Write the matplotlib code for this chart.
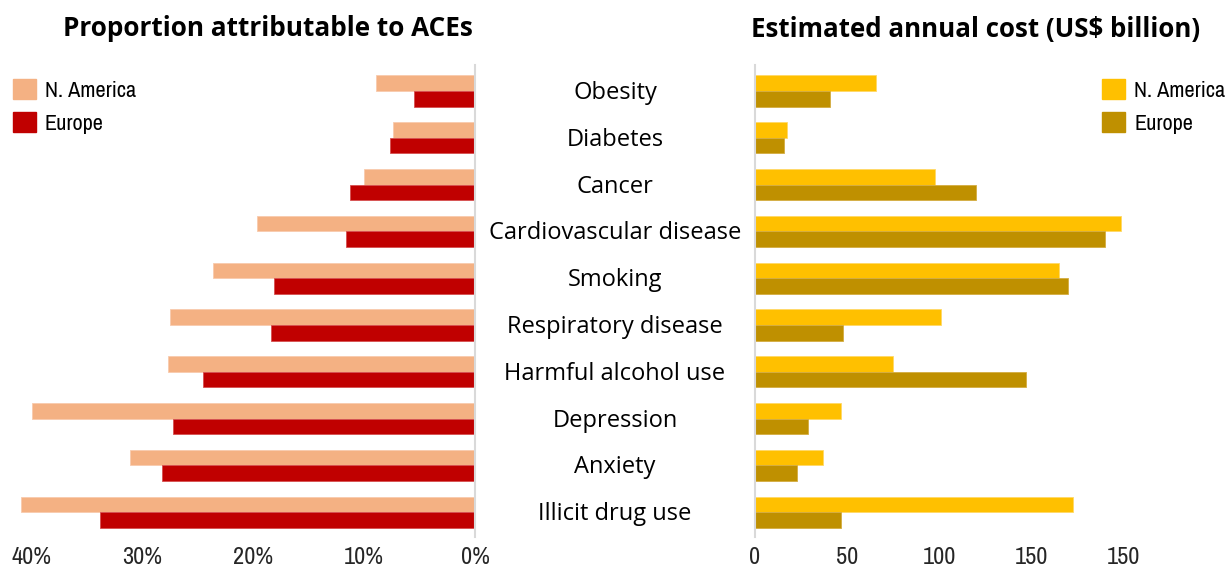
import matplotlib
matplotlib.use('Agg')
import matplotlib.pyplot as plt
import matplotlib.font_manager as fm
import numpy as np
from matplotlib.patches import Patch

# Data
categories = ['Obesity', 'Diabetes', 'Cancer', 'Cardiovascular disease', 'Smoking',
              'Respiratory disease', 'Harmful alcohol use', 'Depression', 'Anxiety',
              'Illicit drug use']
prop_na = [8.9, 7.4, 10.0, 19.6, 23.6, 27.5, 27.7, 39.9, 31.1, 40.9]
prop_eu = [5.5, 7.7, 11.3, 11.6, 18.1, 18.4, 24.5, 27.2, 28.2, 33.8]
cost_na = [66, 17.5, 98, 199, 165, 101, 75, 47, 37, 173]
cost_eu = [41, 16, 120, 190, 170, 48, 147.5, 29, 23, 47]
prop_ticks = [40, 30, 20, 10, 0]
prop_ticklabels = ['40%', '30%', '20%', '10%', '0%']
cost_ticks = [0, 50, 100, 150, 200]
cost_ticklabels = ['0', '50', '100', '150', '150']

# Colours
NA_LEFT = '#F4B183'
EU_LEFT = '#C00000'
NA_RIGHT = '#FFC000'
EU_RIGHT = '#BF9000'
AXIS_GREY = '#D9D9D9'

# look for a condensed face for ticks / legend, else fall back to Roboto
narrow_path = None
for f in fm.fontManager.ttflist:
    if f.weight in (400, 'normal', 'regular') and f.style == 'normal' and \
            ('Narrow' in f.name or f.stretch in ('condensed', 'semi-condensed')):
        narrow_path = f.fname
        if 'Narrow' in f.name or f.stretch == 'semi-condensed':
            break
if narrow_path:
    narrow = fm.FontProperties(fname=narrow_path, size=17.5)
    narrow_leg = fm.FontProperties(fname=narrow_path, size=16)
else:
    narrow = fm.FontProperties(family='Roboto', size=15)
    narrow_leg = fm.FontProperties(family='Roboto', size=14)

REGULAR = ['Open Sans', 'DejaVu Sans']

W, H = 1225, 572
fig = plt.figure(figsize=(W / 100, H / 100), dpi=100)

y = np.arange(len(categories))
bar_h = 0.335
ylim = (9.53, -0.556)
ax_bottom = 35 / H
ax_height = 472 / H

# Left panel: proportion attributable
ax1 = fig.add_axes([3.25 / W, ax_bottom, 471.75 / W, ax_height])
ax1.barh(y - bar_h / 2, prop_na, height=bar_h, color=NA_LEFT, edgecolor='#F8CBAD', linewidth=0.6)
ax1.barh(y + bar_h / 2, prop_eu, height=bar_h, color=EU_LEFT, edgecolor='#D65050', linewidth=0.6)
ax1.set_xlim(42.5, 0)
ax1.set_ylim(*ylim)

# Right panel: estimated annual cost
ax2 = fig.add_axes([755 / W, ax_bottom, 460 / W, ax_height])
ax2.barh(y - bar_h / 2, cost_na, height=bar_h, color=NA_RIGHT, edgecolor='#FFD966', linewidth=0.6)
ax2.barh(y + bar_h / 2, cost_eu, height=bar_h, color=EU_RIGHT, edgecolor='#D4AC40', linewidth=0.6)
ax2.set_xlim(0, 250)
ax2.set_ylim(*ylim)

for ax in (ax1, ax2):
    for s in ax.spines.values():
        s.set_visible(False)
    ax.set_yticks([])
    ax.tick_params(axis='x', length=0, pad=7, colors='#262626')

ax1.spines['right'].set_visible(True)
ax1.spines['right'].set_color(AXIS_GREY)
ax1.spines['right'].set_linewidth(1.5)
ax2.spines['left'].set_visible(True)
ax2.spines['left'].set_color(AXIS_GREY)
ax2.spines['left'].set_linewidth(1.5)

ax1.set_xticks(prop_ticks)
ax1.set_xticklabels(prop_ticklabels, fontproperties=narrow)
ax2.set_xticks(cost_ticks)
ax2.set_xticklabels(cost_ticklabels, fontproperties=narrow)

# Category labels in the middle
for i, cat in enumerate(categories):
    fig.text(615 / W, 1 - (93 + i * 46.8) / H, cat, ha='center', va='center',
             fontsize=17, family=REGULAR, color='black')

# Titles
fig.text(268 / W, 1 - 29 / H, 'Proportion attributable to ACEs', ha='center', va='center',
         fontsize=18.8, fontweight='bold', family=REGULAR)
fig.text(976 / W, 1 - 29 / H, 'Estimated annual cost (US$ billion)', ha='center', va='center',
         fontsize=18.6, fontweight='bold', family=REGULAR)

# Legends
leg_kw = dict(frameon=False, handlelength=1.04, handleheight=1.04, handletextpad=0.4,
              labelspacing=0.5, borderaxespad=0, borderpad=0, prop=narrow_leg)
ax1.legend(handles=[Patch(color=NA_LEFT, label='N. America'), Patch(color=EU_LEFT, label='Europe')],
           loc='upper left', bbox_to_anchor=(13 / W, 1 - 79 / H), bbox_transform=fig.transFigure, **leg_kw)
ax2.legend(handles=[Patch(color=NA_RIGHT, label='N. America'), Patch(color=EU_RIGHT, label='Europe')],
           loc='upper left', bbox_to_anchor=(1102 / W, 1 - 79 / H), bbox_transform=fig.transFigure, **leg_kw)

fig.savefig('out.png', dpi=100)
